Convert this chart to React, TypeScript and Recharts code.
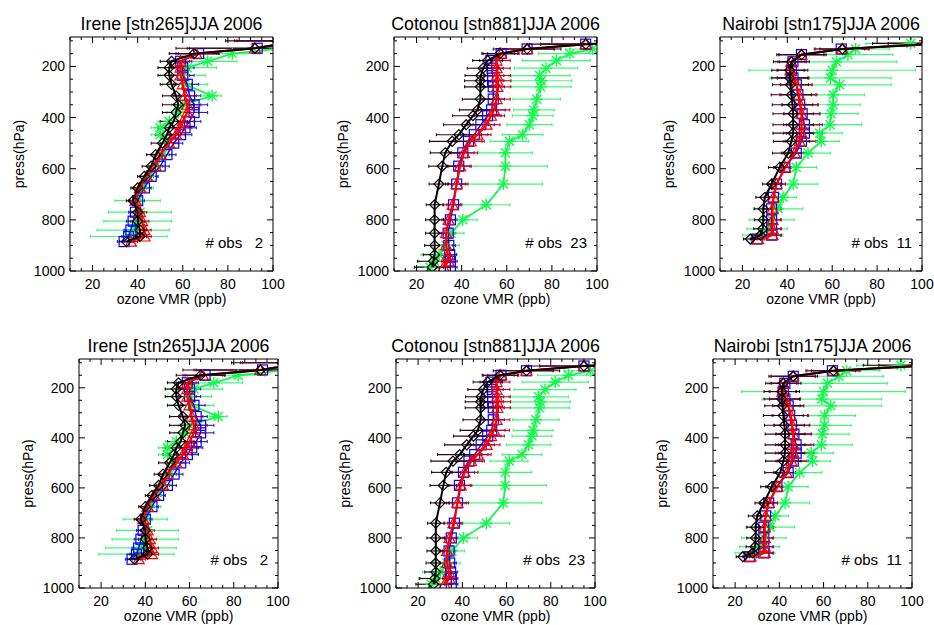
import React from "react";
import { ScatterChart, Scatter, XAxis, YAxis, ErrorBar } from "recharts";

const FONT = "'Liberation Sans', Arial, Helvetica, sans-serif";

// ozone axis ticks (ppb) and pressure axis ticks (hPa)
const xTicks = [10, 15, 20, 25, 30, 35, 40, 45, 50, 55, 60, 65, 70, 75, 80, 85, 90, 95, 100];
const yTicks = [100, 150, 200, 250, 300, 350, 400, 450, 500, 550, 600, 650, 700, 750, 800, 850, 900, 950, 1000];

// Irene [stn265]
const ireneLevels = [100, 129, 150, 180, 205, 235, 270, 315, 350, 380, 415, 440, 467, 500, 545, 590, 630, 675, 725, 770, 805, 840, 865, 885];
const ireneBlack = [112, 92, 65, 55, 54, 54, 55, 57, 58, 57, 56, 54, 53, 51, 48, 46, 43, 40, 38, 40, 40, 41, 41, 35];
const ireneBlackErr = [33, 35, 11, 5, 5, 5, 5, 6, 7, 6, 6, 5, 5, 5, 4, 4, 3, 3, 3, 3, 3, 3, 3, 3];
const ireneBlue = [114, 93, 67, 59, 60, 60, 62, 63, 65, 65, 63, 61, 59, 56, 53, 50, 46, 43, 40, 39, 38, 37, 36, 34];
const ireneBlueErr = [30, 30, 9, 5, 5, 5, 5, 5, 6, 6, 5, 5, 5, 4, 4, 4, 3, 3, 3, 3, 3, 3, 3, 3];
const ireneRed = [113, 92, 66, 59, 59, 59, 60, 61, 62, 62, 60, 59, 57, 54, 50, 48, 44, 41, 39, 41, 42, 43, 43, 37];
const ireneRedErr = [30, 30, 9, 4, 4, 4, 4, 5, 6, 5, 5, 5, 4, 4, 4, 3, 3, 3, 3, 3, 3, 3, 3, 3];
const ireneGreen = [null, 104, 82, 71, 62, 60, 61, 73, 60, 58, 54, 50, 50, 53, 51, 48, 45, 42, 40, 41, 40, 38, 36, null];
const ireneGreenErr = [null, 15, 12, 13, 13, 10, 10, 4, 5, 5, 5, 4, 4, 4, 4, 4, 4, 5, 10, 14, 15, 16, 17, null];

// Cotonou [stn881]
const cotonouLevels = [105, 113, 132, 150, 177, 207, 236, 256, 280, 328, 370, 393, 428, 467, 493, 538, 590, 660, 741, 800, 852, 900, 936, 962, 985];
const cotonouBlack = [120, 95, 69, 57, 51.5, 49.5, 48.5, 48.3, 48.3, 48.3, 47, 45, 42, 38.8, 35.8, 32.7, 31.4, 29.9, 28, 28, 28, 28, 28, 27.5, 27];
const cotonouBlackErr = [20, 25, 15, 8, 6.6, 7, 7, 7, 7, 8, 8, 9, 10, 10, 10, 6.6, 6, 4.3, 3.7, 4, 4, 4.4, 5, 7, 8];
const cotonouBlue = [120, 95, 69, 57.5, 53, 53.5, 53.7, 53.7, 54, 54, 53.3, 51.5, 48.5, 45.6, 43, 40.5, 38.7, 37.8, 36.4, 35, 34, 34.3, 34.7, 35, 35];
const cotonouBlueErr = [20, 20, 12, 6, 5, 5, 5, 5, 5, 5, 6, 6, 6, 6, 6, 5, 5, 4, 3, 3, 3, 3, 3, 3, 3];
const cotonouRed = [120, 95, 69, 57.5, 55.5, 55.5, 55.7, 55.8, 55.8, 55.5, 54.3, 53, 51, 47, 44, 41, 39.3, 37.8, 36, 34.2, 33.1, 33.1, 33.9, 34.2, 32];
const cotonouRedErr = [20, 20, 12, 8, 6, 6, 6, 6, 6, 6, 7, 6, 6, 6, 6, 6, 5, 5, 4, 3, 3, 3, 3, 3, 3];
const cotonouGreen = [null, null, 98, 88, 82, 77.4, 74.5, 75.3, 75, 73.3, 72, 71.5, 70, 67, 61.2, 59.4, 59.4, 58.5, 50.9, 40.5, 35.3, 33, 30, 28, 26];
const cotonouGreenErr = [null, null, 12, 14, 15, 14, 13.5, 13.5, 13.5, 10.5, 9, 9, 10, 9, 8.5, 12, 18.6, 17.3, 10.5, 6.4, 5.7, 6, 8, 7, 6];

// Nairobi [stn175]
const nairobiLevels = [110, 132, 154, 182, 215, 245, 272, 311, 350, 385, 428, 461, 493, 539, 595, 660, 712, 757, 800, 835, 860, 875];
const nairobiBlack = [108, 64.5, 46.3, 41.8, 41.1, 41.1, 41.4, 41.8, 42.3, 42.6, 42.6, 42.6, 41.8, 40.4, 36.6, 33, 30, 29.3, 29.3, 29, 28, 23.5];
const nairobiBlackErr = [30, 10, 11, 8, 8, 8, 8, 9, 9, 9, 9, 9, 8, 7, 5, 4, 4, 4, 4, 4, 4, 3];
const nairobiBlue = [110, 64, 46.3, 42.5, 41.8, 42.5, 44, 44.7, 45.5, 46.6, 47.6, 47.6, 46.3, 44, 38.9, 35.2, 33.8, 33, 33, 33, 33, 26.5];
const nairobiBlueErr = [25, 12, 10, 6, 6, 7, 7, 8, 8, 8, 8, 8, 7, 6, 5, 4, 4, 4, 4, 4, 4, 3];
const nairobiRed = [110, 64.5, 46.3, 41.8, 41.4, 42.6, 44, 45.2, 45.8, 46.3, 46.3, 46.3, 45.5, 43.3, 39.1, 35.2, 33.8, 33.4, 33.4, 33.4, 33.4, 27];
const nairobiRedErr = [25, 12, 10, 6, 6, 7, 7, 8, 8, 8, 8, 8, 7, 6, 5, 4, 4, 4, 4, 4, 4, 3];
const nairobiGreen = [95, 70.4, 67, 61.8, 60, 59.2, 63.3, 60.4, 60.4, 59.5, 59, 54.4, 55.1, 49.2, 44, 42.6, 38.1, 35.9, 33, 31, 29, null];
const nairobiGreenErr = [20, 15, 20, 27, 37, 27, 23, 14, 12, 12, 14, 10, 8, 10, 9, 11, 6, 11, 10, 9, 9, null];

type Pt = { v: number; p: number; e: number };

function toPoints(levels: number[], vals: (number | null)[], errs: (number | null)[]): Pt[] {
  const out: Pt[] = [];
  levels.forEach((p, i) => {
    const v = vals[i];
    if (v != null) out.push({ v, p, e: errs[i] ?? 0 });
  });
  return out;
}

const stations = {
  irene: {
    title: "Irene [stn265]JJA 2006",
    obs: "# obs   2",
    black: toPoints(ireneLevels, ireneBlack, ireneBlackErr),
    blue: toPoints(ireneLevels, ireneBlue, ireneBlueErr),
    red: toPoints(ireneLevels, ireneRed, ireneRedErr),
    green: toPoints(ireneLevels, ireneGreen, ireneGreenErr),
  },
  cotonou: {
    title: "Cotonou [stn881]JJA 2006",
    obs: "# obs  23",
    black: toPoints(cotonouLevels, cotonouBlack, cotonouBlackErr),
    blue: toPoints(cotonouLevels, cotonouBlue, cotonouBlueErr),
    red: toPoints(cotonouLevels, cotonouRed, cotonouRedErr),
    green: toPoints(cotonouLevels, cotonouGreen, cotonouGreenErr),
  },
  nairobi: {
    title: "Nairobi [stn175]JJA 2006",
    obs: "# obs  11",
    black: toPoints(nairobiLevels, nairobiBlack, nairobiBlackErr),
    blue: toPoints(nairobiLevels, nairobiBlue, nairobiBlueErr),
    red: toPoints(nairobiLevels, nairobiRed, nairobiRedErr),
    green: toPoints(nairobiLevels, nairobiGreen, nairobiGreenErr),
  },
};

const W = 934;
const H = 625;

// plot frames (left, right, top, bottom) in page pixels
const panels = [
  { st: stations.irene, L: 70, R: 273, T: 37, B: 271 },
  { st: stations.cotonou, L: 394, R: 597, T: 37, B: 271 },
  { st: stations.nairobi, L: 720, R: 922, T: 37, B: 271 },
  { st: stations.irene, L: 79, R: 278, T: 359, B: 588 },
  { st: stations.cotonou, L: 396, R: 595, T: 359, B: 588 },
  { st: stations.nairobi, L: 713, R: 912, T: 359, B: 588 },
];

const GREEN = "#10f84a";
const GREEN_BAR = "#40f878";

const Diamond = ({ cx, cy }: any) => (
  <polygon
    points={`${cx},${cy - 5} ${cx + 5},${cy} ${cx},${cy + 5} ${cx - 5},${cy}`}
    fill="none"
    stroke="#000"
    strokeWidth={1.2}
  />
);
const Square = ({ cx, cy }: any) => (
  <rect x={cx - 5} y={cy - 5} width={10} height={10} fill="none" stroke="#0000ff" strokeWidth={1.2} />
);
const Triangle = ({ cx, cy }: any) => (
  <polygon
    points={`${cx},${cy - 5.5} ${cx + 5.5},${cy + 4.5} ${cx - 5.5},${cy + 4.5}`}
    fill="none"
    stroke="#ff0000"
    strokeWidth={1.2}
  />
);
const Asterisk = ({ cx, cy }: any) => (
  <g stroke={GREEN} strokeWidth={1.4}>
    <line x1={cx - 6} x2={cx + 6} y1={cy} y2={cy} />
    <line x1={cx} x2={cx} y1={cy - 6} y2={cy + 6} />
    <line x1={cx - 4.5} x2={cx + 4.5} y1={cy - 4.5} y2={cy + 4.5} />
    <line x1={cx - 4.5} x2={cx + 4.5} y1={cy + 4.5} y2={cy - 4.5} />
  </g>
);

const tickText = { fontFamily: FONT, fontSize: 14, fill: "#000" };

function BottomTick({ x, y, payload }: any) {
  const major = payload.value % 20 === 0;
  return (
    <g>
      <line x1={x} x2={x} y1={y} y2={y - (major ? 6 : 3)} stroke="#000" />
      {major && (
        <text x={x} y={y + 18} textAnchor="middle" {...tickText}>
          {payload.value}
        </text>
      )}
    </g>
  );
}
function TopTick({ x, y, payload }: any) {
  const major = payload.value % 20 === 0;
  return <line x1={x} x2={x} y1={y} y2={y + (major ? 6 : 3)} stroke="#000" />;
}
function LeftTick({ x, y, payload }: any) {
  const major = payload.value % 200 === 0;
  return (
    <g>
      <line x1={x} x2={x + (major ? 6 : 3)} y1={y} y2={y} stroke="#000" />
      {major && (
        <text x={x - 5} y={y + 5} textAnchor="end" {...tickText}>
          {payload.value}
        </text>
      )}
    </g>
  );
}
function RightTick({ x, y, payload }: any) {
  const major = payload.value % 200 === 0;
  return <line x1={x} x2={x - (major ? 6 : 3)} y1={y} y2={y} stroke="#000" />;
}

const axisCommon = {
  type: "number" as const,
  allowDataOverflow: true,
  interval: 0 as const,
  tickLine: false,
  tickSize: 0,
  tickMargin: 0,
};

function Axes({ frame }: { frame: boolean }) {
  const line = frame ? { stroke: "#000", strokeWidth: 1 } : false;
  return [
    <XAxis key="b" xAxisId="b" dataKey="v" domain={[10, 100]} ticks={xTicks} height={1} tick={frame ? BottomTick : false} axisLine={line} {...axisCommon} />,
    <XAxis key="t" xAxisId="t" orientation="top" dataKey="v" domain={[10, 100]} ticks={xTicks} height={1} tick={frame ? TopTick : false} axisLine={line} {...axisCommon} />,
    <YAxis key="l" yAxisId="l" dataKey="p" domain={[85, 1000]} reversed ticks={yTicks} width={1} tick={frame ? LeftTick : false} axisLine={line} {...axisCommon} />,
    <YAxis key="r" yAxisId="r" orientation="right" dataKey="p" domain={[85, 1000]} reversed ticks={yTicks} width={1} tick={frame ? RightTick : false} axisLine={line} {...axisCommon} />,
  ];
}

function Panel({ st, L, R, T, B }: any) {
  const margin = { left: L - 1, right: W - R - 1, top: T - 1, bottom: H - B - 1 };
  return (
    <>
      {/* profiles, clipped to the plot frame */}
      <div style={{ position: "absolute", left: 0, top: 0, clipPath: `inset(${T}px ${W - R}px ${H - B}px ${L}px)` }}>
        <ScatterChart width={W} height={H} margin={margin}>
          {Axes({ frame: false })}
          <Scatter xAxisId="b" yAxisId="l" data={st.green} line={{ stroke: GREEN, strokeWidth: 1.8 }} lineType="joint" shape={Asterisk} isAnimationActive={false}>
            <ErrorBar dataKey="e" direction="x" width={1.5} stroke={GREEN_BAR} strokeWidth={1.2} />
          </Scatter>
          <Scatter xAxisId="b" yAxisId="l" data={st.blue} line={{ stroke: "#0000ff", strokeWidth: 1.4 }} lineType="joint" shape={Square} isAnimationActive={false}>
            <ErrorBar dataKey="e" direction="x" width={1.5} stroke="#2020d0" strokeWidth={1.1} />
          </Scatter>
          <Scatter xAxisId="b" yAxisId="l" data={st.red} line={{ stroke: "#ff0000", strokeWidth: 2.2 }} lineType="joint" shape={Triangle} isAnimationActive={false}>
            <ErrorBar dataKey="e" direction="x" width={1.5} stroke="#d00010" strokeWidth={1.1} />
          </Scatter>
          <Scatter xAxisId="b" yAxisId="l" data={st.black} line={{ stroke: "#000", strokeWidth: 2 }} lineType="joint" shape={Diamond} isAnimationActive={false}>
            <ErrorBar dataKey="e" direction="x" width={1.5} stroke="#280818" strokeWidth={1.1} />
          </Scatter>
        </ScatterChart>
      </div>
      {/* frame with inward ticks on all four sides */}
      <div style={{ position: "absolute", left: 0, top: 0 }}>
        <ScatterChart width={W} height={H} margin={margin}>
          {Axes({ frame: true })}
        </ScatterChart>
      </div>
    </>
  );
}

export default function App() {
  return (
    <div style={{ position: "absolute", left: 0, top: 0, width: W, height: H, background: "#fff" }}>
      {panels.map((p, i) => (
        <Panel key={i} {...p} />
      ))}
      <svg width={W} height={H} style={{ position: "absolute", left: 0, top: 0, pointerEvents: "none" }}>
        {panels.map((p, i) => (
          <g key={i} fontFamily={FONT} fill="#000">
            <text x={(p.L + p.R) / 2} y={p.T - 7} textAnchor="middle" fontSize={17.8}>
              {p.st.title}
            </text>
            <text
              x={p.L - 51}
              y={(p.T + p.B) / 2}
              textAnchor="middle"
              fontSize={14}
              dy="0.35em"
              transform={`rotate(-90 ${p.L - 51} ${(p.T + p.B) / 2})`}
            >
              press(hPa)
            </text>
            <text x={(p.L + p.R) / 2} y={p.B + 33} textAnchor="middle" fontSize={14}>
              ozone VMR (ppb)
            </text>
            <text x={p.R - 10} y={p.B - 23} textAnchor="end" fontSize={15} style={{ whiteSpace: "pre" }}>
              {p.st.obs}
            </text>
          </g>
        ))}
      </svg>
    </div>
  );
}
